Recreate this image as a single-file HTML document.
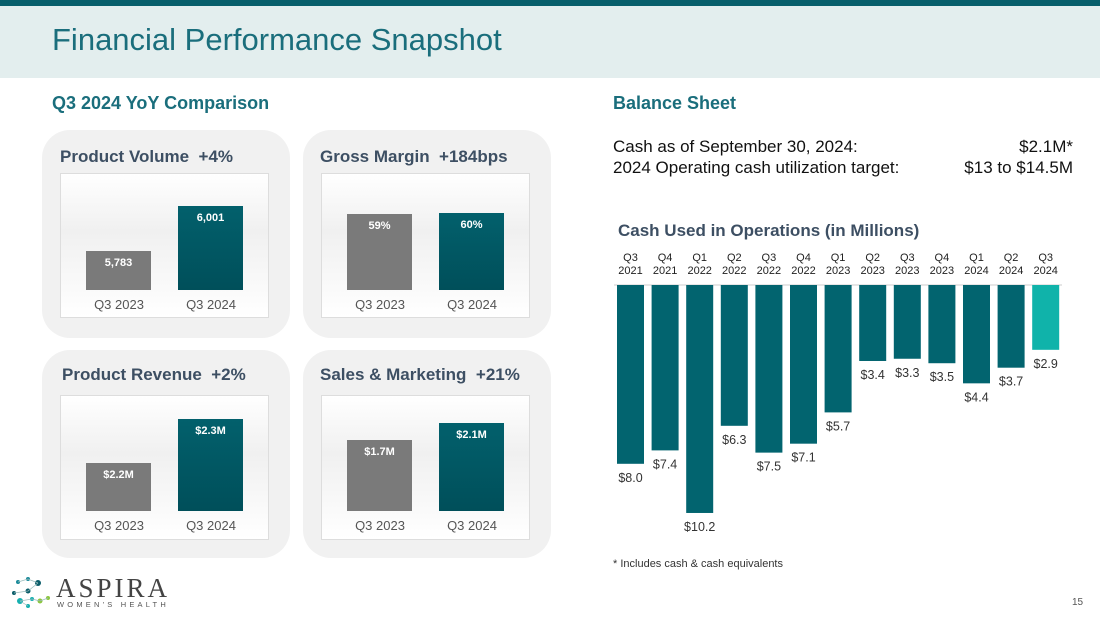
<!DOCTYPE html>
<html><head><meta charset="utf-8">
<style>
body{margin:0;width:1100px;height:619px;position:relative;background:#fff;font-family:"Liberation Sans",sans-serif;overflow:hidden}
.abs{position:absolute}
.card{position:absolute;background:#f1f1f1;border-radius:28px}
.inner{position:absolute;background:linear-gradient(#fff,#f0f0f0 40%,#fff);border:1px solid #ddd}
.ctitle{position:absolute;font-weight:bold;font-size:17px;color:#3d4f63;white-space:pre}
.bar{position:absolute;color:#fff;font-weight:bold;font-size:11px;text-align:center;padding-top:6px;box-sizing:border-box}
.g{background:#7a7a7a}.t{background:linear-gradient(#02606c,#004f5a)}
.xl{position:absolute;font-size:13px;color:#555;width:80px;text-align:center}
</style></head><body>
<div class="abs" style="left:0;top:0;width:1100px;height:6px;background:#075f6b"></div>
<div class="abs" style="left:0;top:6px;width:1100px;height:72px;background:#e3eeee"></div>
<div class="abs" style="left:52px;top:22px;font-size:31px;color:#1a6e7c">Financial Performance Snapshot</div>
<div class="abs" style="left:52px;top:93px;font-size:18px;font-weight:bold;color:#1a6e7c">Q3 2024 YoY Comparison</div>
<div class="abs" style="left:613px;top:93px;font-size:18px;font-weight:bold;color:#1a6e7c">Balance Sheet</div>
<div class="abs" style="left:613px;top:137px;width:460px;font-size:17px;color:#111">Cash as of September 30, 2024:<span style="position:absolute;right:0">$2.1M*</span></div>
<div class="abs" style="left:613px;top:158px;width:460px;font-size:17px;color:#111">2024 Operating cash utilization target:<span style="position:absolute;right:0">$13 to $14.5M</span></div>
<div class="abs" style="left:618px;top:221px;font-size:17px;font-weight:bold;color:#3d4f63">Cash Used in Operations (in Millions)</div>
<div class="abs" style="left:613px;top:558px;font-size:11px;color:#333">* Includes cash &amp; cash equivalents</div>
<div class="abs" style="left:1072px;top:597px;font-size:10px;color:#555">15</div>
<div class="abs" style="left:10px;top:575px;width:180px;height:35px">
<svg width="40" height="35" style="position:absolute;left:0;top:0">
<circle cx="8" cy="7" r="2" fill="#1a8a9a"/><circle cx="18" cy="4" r="2" fill="#1a8a9a"/><circle cx="28" cy="8" r="3" fill="#0b5d6a"/><circle cx="4" cy="18" r="2" fill="#0b5d6a"/><circle cx="18" cy="16" r="2.5" fill="#0b5d6a"/><circle cx="10" cy="26" r="3" fill="#16b0b0"/><circle cx="22" cy="24" r="2" fill="#16b0b0"/><circle cx="30" cy="26" r="2.5" fill="#8cc63f"/><circle cx="38" cy="23" r="2" fill="#8cc63f"/><circle cx="18" cy="31" r="2" fill="#16b0b0"/>
<path d="M8 7L18 4L28 8M4 18L18 16L28 8M10 26L22 24L30 26L38 23M18 31L10 26" stroke="#9bb" stroke-width="0.7" fill="none"/></svg>
<div style="position:absolute;left:46px;top:-2px;font-family:'Liberation Serif',serif;font-size:27px;letter-spacing:3px;color:#444">ASPIRA</div>
<div style="position:absolute;left:47px;top:25px;font-size:7.5px;letter-spacing:3.2px;color:#555">WOMEN'S HEALTH</div>
</div>

<div id="cards"></div>

<svg class="abs" style="left:600px;top:245px" width="480" height="290" id="cc"></svg>

<script>
// YoY cards data
const cardTitles=["Product Volume  +4%","Gross Margin  +184bps","Product Revenue  +2%","Sales & Marketing  +21%"];
const cardPrev=[5783,59,2.2,1.7];
const cardCurr=[6001,60,2.3,2.1];
const cardPrevLabels=["5,783","59%","$2.2M","$1.7M"];
const cardCurrLabels=["6,001","60%","$2.3M","$2.1M"];
const cardMin=[5594,0,2.091,0.03];
const cardMax=[6001,60,2.3,2.1];
const cardFull=[84,77,92,88];
const periods=["Q3 2023","Q3 2024"];

// Cash chart data
const quarters=["Q3|2021","Q4|2021","Q1|2022","Q2|2022","Q3|2022","Q4|2022","Q1|2023","Q2|2023","Q3|2023","Q4|2023","Q1|2024","Q2|2024","Q3|2024"];
const cashUsed=[8.0,7.4,10.2,6.3,7.5,7.1,5.7,3.4,3.3,3.5,4.4,3.7,2.9];
const cashLabels=["$8.0","$7.4","$10.2","$6.3","$7.5","$7.1","$5.7","$3.4","$3.3","$3.5","$4.4","$3.7","$2.9"];

const cards=document.getElementById('cards');
const pos=[[42,130],[303,130],[42,350],[303,350]];
const titleOff=[[18,17],[17,17],[20,15],[17,15]];
cardTitles.forEach((t,i)=>{
  const [x,y]=pos[i];
  const c=document.createElement('div');c.className='card';
  c.style.cssText=`left:${x}px;top:${y}px;width:248px;height:208px`;
  
  
  const tt=document.createElement('div');tt.className='ctitle';tt.textContent=t;
  tt.style.left=titleOff[i][0]+'px';tt.style.top=titleOff[i][1]+'px';
  
  
  c.appendChild(tt);
  const inn=document.createElement('div');inn.className='inner';
  const iy=i<2?43:45;
  inn.style.cssText=`left:18px;top:${iy}px;width:207px;height:143px`;
  
  
  c.appendChild(inn);
  const base=i<2?116:115, h=cardFull[i];
  const scale=v=>((v-cardMin[i])/(cardMax[i]-cardMin[i]))*h;
  [[cardPrev[i],cardPrevLabels[i],'g',25],[cardCurr[i],cardCurrLabels[i],'t',117]].forEach(([v,l,cl,bx],k)=>{
    const bh=scale(v);
    const b=document.createElement('div');b.className='bar '+cl;
    b.style.cssText=`left:${bx}px;top:${base-bh}px;width:65px;height:${bh}px`;
    b.textContent=l;
    
    
    inn.appendChild(b);
    const xl=document.createElement('div');xl.className='xl';
    xl.style.left=(bx-7)+'px';xl.style.top=(base+7)+'px';xl.textContent=periods[k];
    
    
    inn.appendChild(xl);
  });
  cards.appendChild(c);
});

// cash chart
const svg=document.getElementById('cc');const NS='http://www.w3.org/2000/svg';
const baseY=40, pxPer=22.35, x0=17, pitch=34.6, bw=27;
const yS=v=>baseY+v*pxPer;
const xS=i=>x0+i*pitch;
function el(n,a,txt){const e=document.createElementNS(NS,n);for(const k in a)e.setAttribute(k,a[k]);if(txt!=null)e.textContent=txt;svg.appendChild(e);return e;}
const ax=el('line',{x1:14,x2:462,y1:baseY,y2:baseY,stroke:'#ddd','stroke-width':1.5});


cashUsed.forEach((v,i)=>{
  const r=el('rect',{x:xS(i),y:baseY,width:bw,height:yS(v)-baseY,fill:i===cashUsed.length-1?'#10b3aa':'#02646f'});
  
  
  const t=el('text',{x:xS(i)+bw/2,y:yS(v)+18,'text-anchor':'middle','font-size':12.5,fill:'#333','font-family':'Liberation Sans'},cashLabels[i]);
  
  
  const [q,yr]=quarters[i].split('|');
  const a=el('text',{x:xS(i)+bw/2,y:16,'text-anchor':'middle','font-size':11,fill:'#222','font-family':'Liberation Sans'},q);
  
  
  const b=el('text',{x:xS(i)+bw/2,y:29,'text-anchor':'middle','font-size':11,fill:'#222','font-family':'Liberation Sans'},yr);
  
  
});
</script>
</body></html>
